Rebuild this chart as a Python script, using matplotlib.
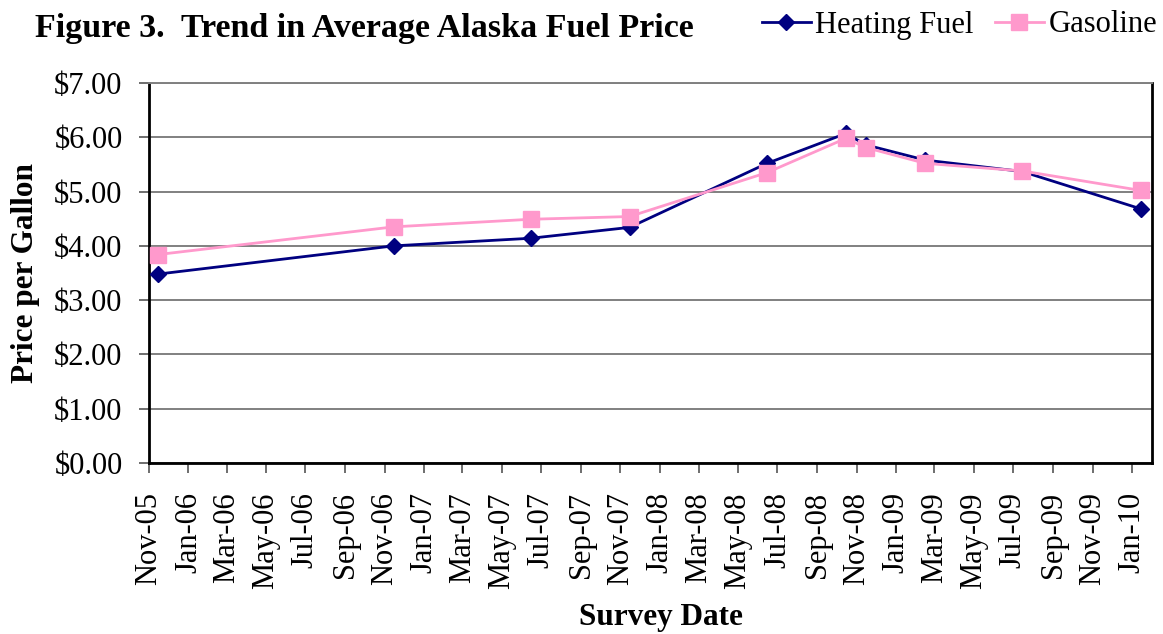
#!/usr/bin/env python3
import datetime as dt

import matplotlib
matplotlib.use("Agg")
import matplotlib.pyplot as plt
import matplotlib.dates as mdates
from matplotlib.ticker import FuncFormatter

plt.rcParams['font.family'] = ['Liberation Serif', 'DejaVu Serif']

# survey dates (mid-month)
survey_dates = [
    dt.date(2005, 11, 15),
    dt.date(2006, 11, 15),
    dt.date(2007, 6, 15),
    dt.date(2007, 11, 15),
    dt.date(2008, 6, 15),
    dt.date(2008, 10, 15),
    dt.date(2008, 11, 15),
    dt.date(2009, 2, 15),
    dt.date(2009, 7, 15),
    dt.date(2010, 1, 15),
]
heating_fuel = [3.48, 4.00, 4.14, 4.34, 5.52, 6.07, 5.86, 5.58, 5.37, 4.68]
gasoline = [3.84, 4.35, 4.49, 4.54, 5.35, 5.98, 5.81, 5.52, 5.38, 5.02]

fig = plt.figure(figsize=(11.63, 6.34), dpi=100)
ax = fig.add_axes([149 / 1163, 1 - 463 / 634, (1152 - 149) / 1163, (463 - 83) / 634])

ax.plot(survey_dates, heating_fuel, color="#000080", linewidth=2, marker="D",
        markersize=8, label="Heating Fuel", zorder=3)
ax.plot(survey_dates, gasoline, color="#FF99CC", linewidth=2, marker="s",
        markersize=11, label="Gasoline", zorder=3)

ax.set_xlim(dt.date(2005, 11, 1), dt.date(2010, 2, 1))
ax.set_ylim(0, 7)

ax.xaxis.set_major_locator(mdates.MonthLocator(bymonth=[1, 3, 5, 7, 9, 11]))
ax.xaxis.set_major_formatter(mdates.DateFormatter("%b-%y"))
ax.yaxis.set_major_locator(plt.MultipleLocator(1))
ax.yaxis.set_major_formatter(FuncFormatter(lambda v, p: f"${v:.2f}"))

ax.tick_params(axis="x", labelrotation=90, labelsize=22, length=7, width=1.2,
               color="#555555", direction="out", pad=14)
ax.tick_params(axis="y", labelsize=22, length=7, width=1.2, color="#555555",
               direction="out", pad=12)

ax.grid(axis="y", color="#808080", linewidth=1.4)
ax.set_axisbelow(True)
for side in ("left", "bottom", "right"):
    ax.spines[side].set_linewidth(2)
    ax.spines[side].set_color("black")
ax.spines["top"].set_color("#808080")
ax.spines["top"].set_linewidth(1.4)

ax.set_xlabel("Survey Date", fontsize=22.5, fontweight="bold", va="center")
ax.xaxis.set_label_coords(0.51, -(617 - 463) / 380)
ax.set_ylabel("Price per Gallon", fontsize=22.5, fontweight="bold", va="center")
ax.yaxis.set_label_coords(-(149 - 26) / 1003, 0.5)

fig.text(35 / 1163, 1 - 28 / 634, "Figure 3.  Trend in Average Alaska Fuel Price",
         fontsize=24.5, fontweight="bold", ha="left", va="center")

fig.legend(loc="center right", bbox_to_anchor=(1157 / 1163, 1 - 25 / 634), ncol=2,
           frameon=False, fontsize=22, handlelength=1.6, handletextpad=0.15,
           columnspacing=0.7, borderaxespad=0, borderpad=0)

fig.savefig("out.png", dpi=100)
